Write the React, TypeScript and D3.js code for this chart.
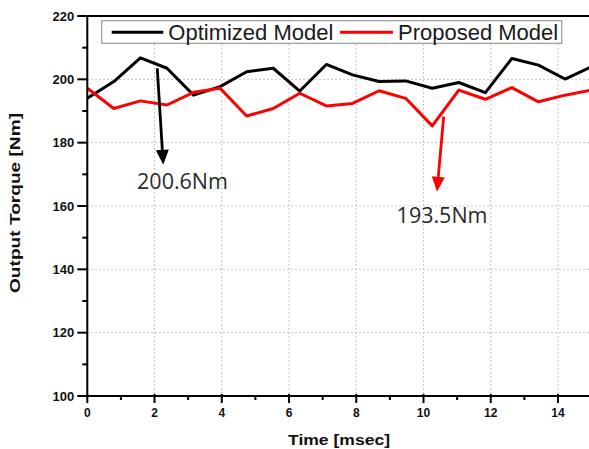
import React from "react";
import * as d3 from "d3";

const timeMs = [0, 0.79, 1.58, 2.37, 3.16, 3.95, 4.74, 5.53, 6.32, 7.11, 7.89, 8.68, 9.47, 10.26, 11.05, 11.84, 12.63, 13.42, 14.21, 15.0];
const optimized = [194, 199.3, 206.8, 203.5, 195, 197.7, 202.4, 203.5, 196.3, 204.7, 201.4, 199.3, 199.5, 197.2, 199, 195.8, 206.6, 204.5, 200.1, 204];
const proposed = [197.2, 190.8, 193.2, 191.9, 195.9, 197.2, 188.4, 190.8, 195.6, 191.6, 192.4, 196.4, 194, 185.3, 196.6, 193.7, 197.4, 192.9, 195, 196.6];

const xMajor = [0, 2, 4, 6, 8, 10, 12, 14];
const xMinor = [1, 3, 5, 7, 9, 11, 13];
const yMajor = [100, 120, 140, 160, 180, 200, 220];
const yMinor = [110, 130, 150, 170, 190, 210];
const xGrid = [2, 4, 6, 8, 10, 12, 14];
const yGrid = [120, 140, 160, 180, 200];

const seriesNames = ["Optimized Model", "Proposed Model"];
const seriesColors = ["#000000", "#ff0000"];

// annotations: [x0, y0, x1, y1] in data space, label at [lx, ly]
const arrowBlack = [2.08, 203.5, 2.26, 173.0];
const arrowRed = [10.6, 188.2, 10.4, 164.5];
const labelBlack = { x: 1.48, y: 165.4, text: "200.6Nm" };
const labelRed = { x: 9.2, y: 154.6, text: "193.5Nm" };

export default function App() {
  const W = 589, H = 449;
  const x = d3.scaleLinear().domain([0, 15]).range([87.3, 591.6]);
  const y = d3.scaleLinear().domain([100, 220]).range([396, 16]);
  const line = d3.line<number>().x((_, i) => x(timeMs[i])).y((d) => y(d));

  const arrow = (a: number[], color: string, key: string) => {
    const x0 = x(a[0]), y0 = y(a[1]), x1 = x(a[2]), y1 = y(a[3]);
    const ang = Math.atan2(y1 - y0, x1 - x0);
    const len = 15, hw = 6.5;
    const bx = x1 - len * Math.cos(ang), by = y1 - len * Math.sin(ang);
    const px = -Math.sin(ang), py = Math.cos(ang);
    const head = `M${x1},${y1}L${bx + px * hw},${by + py * hw}L${bx - px * hw},${by - py * hw}Z`;
    return (
      <g key={key}>
        <line x1={x0} y1={y0} x2={bx} y2={by} stroke={color} strokeWidth={2.8} />
        <path d={head} fill={color} />
      </g>
    );
  };

  return (
    <svg width={W} height={H} style={{ position: "absolute", left: 0, top: 0, background: "#fff" }}>
      <rect x={0} y={0} width={W} height={H} fill="#fff" />
      {/* grid */}
      {xGrid.map((v) => (
        <line key={"gx" + v} x1={x(v)} x2={x(v)} y1={y(220)} y2={y(100)} stroke="#b5b5b5" strokeWidth={1} strokeDasharray="1.5,2.5" />
      ))}
      {yGrid.map((v) => (
        <line key={"gy" + v} x1={x(0)} x2={W} y1={y(v)} y2={y(v)} stroke="#b5b5b5" strokeWidth={1} strokeDasharray="1.5,2.5" />
      ))}
      {/* series */}
      <path d={line(optimized) || ""} fill="none" stroke={seriesColors[0]} strokeWidth={3} strokeLinejoin="round" />
      <path d={line(proposed) || ""} fill="none" stroke={seriesColors[1]} strokeWidth={3} strokeLinejoin="round" />
      {/* axes */}
      <line x1={x(0)} x2={W} y1={y(100)} y2={y(100)} stroke="#000" strokeWidth={2} />
      <line x1={x(0)} x2={x(0)} y1={y(220)} y2={y(100)} stroke="#000" strokeWidth={2} />
      <line x1={x(0)} x2={W} y1={y(220)} y2={y(220)} stroke="#000" strokeWidth={2} />
      {yMajor.map((v) => (
        <g key={"ym" + v}>
          <line x1={x(0) - 10} x2={x(0)} y1={y(v)} y2={y(v)} stroke="#000" strokeWidth={2} />
          <text x={x(0) - 13} y={y(v)} dy="0.35em" textAnchor="end" fontFamily="Liberation Sans, Arial, sans-serif" fontWeight="bold" fontSize={13} fill="#111">{v}</text>
        </g>
      ))}
      {yMinor.map((v) => (
        <line key={"yn" + v} x1={x(0) - 5} x2={x(0)} y1={y(v)} y2={y(v)} stroke="#000" strokeWidth={2} />
      ))}
      {xMajor.map((v) => (
        <g key={"xm" + v}>
          <line x1={x(v)} x2={x(v)} y1={y(100) - 2} y2={y(100) + 7} stroke="#000" strokeWidth={2} />
          <text x={x(v)} y={417} textAnchor="middle" fontFamily="Liberation Sans, Arial, sans-serif" fontWeight="bold" fontSize={12} fill="#111">{v}</text>
        </g>
      ))}
      {xMinor.map((v) => (
        <line key={"xn" + v} x1={x(v)} x2={x(v)} y1={y(100)} y2={y(100) + 4} stroke="#000" strokeWidth={2} />
      ))}
      {/* axis titles */}
      <text x={339} y={445} textAnchor="middle" fontFamily="Liberation Sans, Arial, sans-serif" fontWeight="bold" fontSize={14} textLength={102} lengthAdjust="spacingAndGlyphs" fill="#111">Time [msec]</text>
      <text transform={`translate(20,${203}) rotate(-90)`} textAnchor="middle" fontFamily="Liberation Sans, Arial, sans-serif" fontWeight="bold" fontSize={14} textLength={180} lengthAdjust="spacingAndGlyphs" fill="#111">Output Torque [Nm]</text>
      {/* legend */}
      <rect x={101.7} y={20.7} width={460} height={22.6} fill="#fff" stroke="#9a9a9a" strokeWidth={1.2} />
      <line x1={111.7} x2={163.3} y1={32.3} y2={32.3} stroke={seriesColors[0]} strokeWidth={3} />
      <text x={168.3} y={40} fontFamily="Liberation Sans, Arial, sans-serif" fontSize={22} fill="#1a1a1a">{seriesNames[0]}</text>
      <line x1={340} x2={393} y1={32.3} y2={32.3} stroke={seriesColors[1]} strokeWidth={3} />
      <text x={398} y={40} fontFamily="Liberation Sans, Arial, sans-serif" fontSize={22} fill="#1a1a1a">{seriesNames[1]}</text>
      {/* annotations */}
      {arrow(arrowBlack, "#000", "ab")}
      {arrow(arrowRed, "#ff0000", "ar")}
      <text x={x(labelBlack.x)} y={y(labelBlack.y)} fontFamily="Open Sans, sans-serif" fontSize={21.5} fill="#2a2a2a">{labelBlack.text}</text>
      <text x={x(labelRed.x)} y={y(labelRed.y)} fontFamily="Open Sans, sans-serif" fontSize={21.5} fill="#2a2a2a">{labelRed.text}</text>
    </svg>
  );
}
